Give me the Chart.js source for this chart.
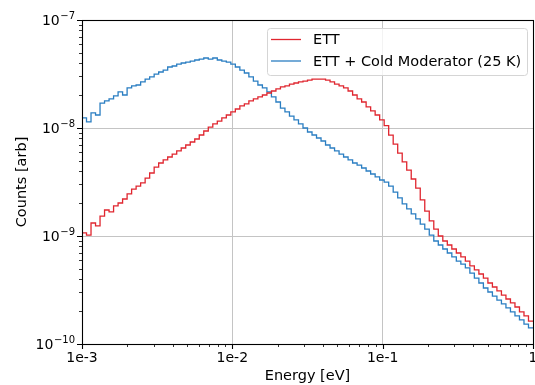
<!DOCTYPE html>
<html>
<head>
<meta charset="utf-8">
<script src="https://cdn.jsdelivr.net/npm/chart.js@4/dist/chart.umd.min.js"></script>
<style>
  html, body { margin: 0; padding: 0; background: #fff; }
  #wrap { width: 535px; height: 385px; }
</style>
</head>
<body>
<div id="wrap"><canvas id="spectrum" width="535" height="385"></canvas></div>
<script>
// 100 log-spaced energy bins, 1e-3 .. 1 eV
const nBins = 100;
const binEdges = [];
for (let i = 0; i <= nBins; i++) binEdges.push(Math.pow(10, -3 + 3 * i / nBins));

const ettCounts = [
  1.07e-9, 1.02e-9, 1.32e-9, 1.24e-9, 1.53e-9, 1.74e-9, 1.67e-9, 1.90e-9, 2.02e-9, 2.20e-9,
  2.45e-9, 2.72e-9, 2.90e-9, 3.10e-9, 3.44e-9, 3.83e-9, 4.35e-9, 4.74e-9, 5.06e-9, 5.39e-9,
  5.74e-9, 6.13e-9, 6.53e-9, 6.96e-9, 7.42e-9, 7.91e-9, 8.61e-9, 9.38e-9, 1.02e-8, 1.09e-8,
  1.16e-8, 1.24e-8, 1.32e-8, 1.41e-8, 1.50e-8, 1.60e-8, 1.67e-8, 1.78e-8, 1.86e-8, 1.94e-8,
  2.02e-8, 2.11e-8, 2.20e-8, 2.30e-8, 2.40e-8, 2.45e-8, 2.55e-8, 2.61e-8, 2.67e-8, 2.72e-8,
  2.78e-8, 2.84e-8, 2.84e-8, 2.84e-8, 2.78e-8, 2.67e-8, 2.55e-8, 2.45e-8, 2.35e-8, 2.20e-8,
  2.02e-8, 1.86e-8, 1.74e-8, 1.57e-8, 1.44e-8, 1.32e-8, 1.19e-8, 1.05e-8, 8.60e-9, 7.10e-9,
  5.86e-9, 4.85e-9, 4.08e-9, 3.37e-9, 2.78e-9, 2.16e-9, 1.70e-9, 1.38e-9, 1.16e-9, 1.00e-9,
  8.99e-10, 8.25e-10, 7.58e-10, 6.96e-10, 6.40e-10, 5.86e-10, 5.28e-10, 4.85e-10, 4.45e-10, 4.08e-10,
  3.67e-10, 3.37e-10, 3.10e-10, 2.84e-10, 2.61e-10, 2.40e-10, 2.20e-10, 1.98e-10, 1.82e-10, 1.63e-10
];

const coldCounts = [
  1.24e-8, 1.14e-8, 1.38e-8, 1.32e-8, 1.70e-8, 1.78e-8, 1.86e-8, 1.98e-8, 2.16e-8, 2.02e-8,
  2.35e-8, 2.45e-8, 2.50e-8, 2.67e-8, 2.84e-8, 2.97e-8, 3.16e-8, 3.30e-8, 3.44e-8, 3.67e-8,
  3.75e-8, 3.91e-8, 4.00e-8, 4.08e-8, 4.17e-8, 4.26e-8, 4.35e-8, 4.45e-8, 4.35e-8, 4.45e-8,
  4.26e-8, 4.17e-8, 4.08e-8, 3.91e-8, 3.67e-8, 3.44e-8, 3.23e-8, 2.97e-8, 2.72e-8, 2.50e-8,
  2.35e-8, 2.16e-8, 1.94e-8, 1.74e-8, 1.53e-8, 1.41e-8, 1.29e-8, 1.19e-8, 1.09e-8, 1.00e-8,
  9.18e-9, 8.61e-9, 8.08e-9, 7.58e-9, 6.96e-9, 6.53e-9, 6.13e-9, 5.74e-9, 5.39e-9, 5.06e-9,
  4.74e-9, 4.54e-9, 4.26e-9, 4.00e-9, 3.75e-9, 3.52e-9, 3.30e-9, 3.16e-9, 2.90e-9, 2.55e-9,
  2.25e-9, 1.98e-9, 1.78e-9, 1.60e-9, 1.44e-9, 1.29e-9, 1.16e-9, 1.02e-9, 8.99e-10, 8.25e-10,
  7.58e-10, 6.96e-10, 6.40e-10, 5.86e-10, 5.50e-10, 5.06e-10, 4.54e-10, 4.08e-10, 3.67e-10, 3.30e-10,
  3.03e-10, 2.78e-10, 2.55e-10, 2.35e-10, 2.16e-10, 1.98e-10, 1.82e-10, 1.67e-10, 1.53e-10, 1.41e-10
];

const seriesLabels = ['ETT', 'ETT + Cold Moderator (25 K)'];
const seriesColors = ['#e0262f', '#2a7ec2'];

const xMajor = [1e-3, 1e-2, 1e-1, 1];
const xMajorLabels = ['1e-3', '1e-2', '1e-1', '1'];
const yMajor = [1e-10, 1e-9, 1e-8, 1e-7];
const yMajorExp = ['\u221210', '\u22129', '\u22128', '\u22127'];

const FONT = '"DejaVu Sans", sans-serif';

function minorTicks(majors) {
  const out = [];
  for (let d = 0; d < majors.length - 1; d++) {
    for (let m = 2; m <= 9; m++) out.push(majors[d] * m);
  }
  return out;
}

function histData(counts) {
  // one point per left edge, plus the last right edge to close the final step
  return binEdges.map((e, i) => ({ x: e, y: counts[Math.min(i, counts.length - 1)] }));
}

// matplotlib-like frame, ticks, labels and legend
const mplAxes = {
  id: 'mplAxes',
  afterDraw(chart) {
    const ctx = chart.ctx;
    const a = chart.chartArea;
    const xs = chart.scales.x, ys = chart.scales.y;
    ctx.save();
    ctx.strokeStyle = '#000';

    // minor ticks
    ctx.lineWidth = 0.8;
    ctx.beginPath();
    minorTicks(xMajor).forEach(v => {
      const px = Math.round(xs.getPixelForValue(v)) + 0.5;
      ctx.moveTo(px, a.bottom); ctx.lineTo(px, a.bottom + 3);
    });
    minorTicks(yMajor).forEach(v => {
      const py = Math.round(ys.getPixelForValue(v)) + 0.5;
      ctx.moveTo(a.left, py); ctx.lineTo(a.left - 3, py);
    });
    ctx.stroke();

    // major ticks
    ctx.lineWidth = 1.1;
    ctx.beginPath();
    xMajor.forEach(v => {
      const px = Math.round(xs.getPixelForValue(v)) + 0.5;
      ctx.moveTo(px, a.bottom); ctx.lineTo(px, a.bottom + 5);
    });
    yMajor.forEach(v => {
      const py = Math.round(ys.getPixelForValue(v)) + 0.5;
      ctx.moveTo(a.left, py); ctx.lineTo(a.left - 5, py);
    });
    ctx.stroke();

    // frame
    ctx.lineWidth = 1.1;
    ctx.strokeRect(a.left + 0.5, a.top + 0.5, a.right - a.left, a.bottom - a.top);

    // tick labels
    ctx.fillStyle = '#000';
    ctx.font = '14px ' + FONT;
    ctx.textAlign = 'center';
    ctx.textBaseline = 'middle';
    xMajor.forEach((v, i) => {
      ctx.fillText(xMajorLabels[i], xs.getPixelForValue(v), a.bottom + 14);
    });
    yMajor.forEach((v, i) => {
      const py = ys.getPixelForValue(v);
      ctx.font = '10px ' + FONT;
      const ew = ctx.measureText(yMajorExp[i]).width;
      ctx.textAlign = 'right';
      ctx.fillText(yMajorExp[i], a.left - 7, py - 4);
      ctx.font = '14px ' + FONT;
      ctx.fillText('10', a.left - 7 - ew - 0.5, py + 1);
    });

    // axis titles
    ctx.textAlign = 'center';
    ctx.font = '14.5px ' + FONT;
    ctx.fillText('Energy [eV]', (a.left + a.right) / 2, a.bottom + 32);
    ctx.save();
    ctx.translate(22, (a.top + a.bottom) / 2);
    ctx.rotate(-Math.PI / 2);
    ctx.fillText('Counts [arb]', 0, 0);
    ctx.restore();

    // legend
    const lx = 267, ly = 28, lw = 260, lh = 47;
    ctx.beginPath();
    ctx.roundRect(lx + 0.5, ly + 0.5, lw, lh, 3);
    ctx.fillStyle = 'rgba(255,255,255,0.8)';
    ctx.fill();
    ctx.strokeStyle = '#d5d5d5';
    ctx.lineWidth = 1;
    ctx.stroke();
    ctx.textAlign = 'left';
    ctx.font = '14.5px ' + FONT;
    chart.data.datasets.forEach((ds, i) => {
      const yy = ly + 11.5 + i * 21.5;
      ctx.strokeStyle = ds.borderColor;
      ctx.lineWidth = 1.3;
      ctx.beginPath();
      ctx.moveTo(lx + 4, yy); ctx.lineTo(lx + 34, yy);
      ctx.stroke();
      ctx.fillStyle = '#000';
      ctx.fillText(ds.label, lx + 46, yy + 1);
    });
    ctx.restore();
  }
};

const config = {
  type: 'line',
  data: {
    datasets: [
      {
        label: seriesLabels[0],
        data: histData(ettCounts),
        borderColor: seriesColors[0],
        borderWidth: 1.3,
        pointRadius: 0,
        stepped: 'before',
        fill: false
      },
      {
        label: seriesLabels[1],
        data: histData(coldCounts),
        borderColor: seriesColors[1],
        borderWidth: 1.3,
        pointRadius: 0,
        stepped: 'before',
        fill: false
      }
    ]
  },
  options: {
    responsive: false,
    animation: false,
    layout: { padding: { left: 82, right: 2, top: 20, bottom: 41 } },
    scales: {
      x: {
        type: 'logarithmic',
        min: 1e-3,
        max: 1,
        afterBuildTicks: s => { s.ticks = xMajor.map(v => ({ value: v })); },
        ticks: { display: false },
        grid: { color: '#c4c4c4', lineWidth: 1, drawTicks: false },
        border: { display: false }
      },
      y: {
        type: 'logarithmic',
        min: 1e-10,
        max: 1e-7,
        afterBuildTicks: s => { s.ticks = yMajor.map(v => ({ value: v })); },
        ticks: { display: false },
        grid: { color: '#c4c4c4', lineWidth: 1, drawTicks: false },
        border: { display: false }
      }
    },
    plugins: {
      legend: { display: false },
      tooltip: { enabled: false }
    }
  },
  plugins: [mplAxes]
};

new Chart(document.getElementById('spectrum'), config);
</script>
</body>
</html>
